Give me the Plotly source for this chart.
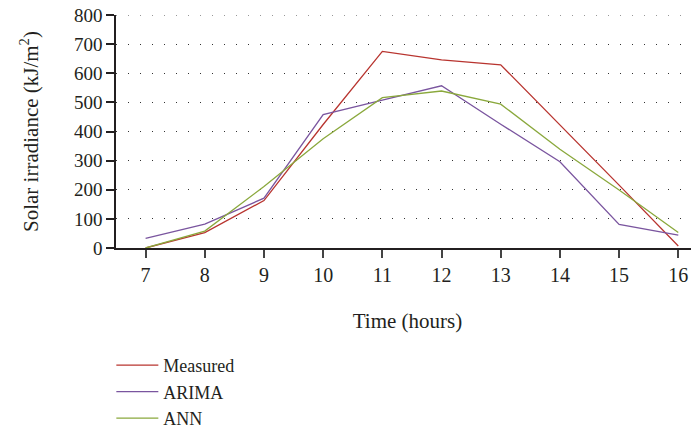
import plotly.graph_objects as go

hours = [7, 8, 9, 10, 11, 12, 13, 14, 15, 16]
measured = [0, 53, 163, 424, 675, 646, 629, 424, 216, 7]
arima = [33, 82, 171, 458, 508, 557, 425, 296, 81, 44]
ann = [0, 58, 211, 375, 516, 539, 494, 339, 199, 53]

y_ticks = [0, 100, 200, 300, 400, 500, 600, 700, 800]

FONT = "Liberation Serif"
TXT = "#231f20"
GRID_DASH = "1px,11px"

fig = go.Figure()
fig.add_trace(go.Scatter(x=hours, y=measured, mode="lines", name="Measured",
                         line=dict(color="#b8342f", width=1.3)))
fig.add_trace(go.Scatter(x=hours, y=arima, mode="lines", name="ARIMA",
                         line=dict(color="#7a559f", width=1.3)))
fig.add_trace(go.Scatter(x=hours, y=ann, mode="lines", name="ANN",
                         line=dict(color="#8aa83c", width=1.3)))

# top gridline (plotly drops the grid line at the range edge)
fig.add_hline(y=y_ticks[-1], line=dict(color="#333", width=1, dash=GRID_DASH),
              layer="below")

# page body has an 8px margin, so the figure is sized/offset to compensate
fig.update_layout(
    width=691, height=424,
    margin=dict(l=108, r=0, t=7, b=184, autoexpand=False),
    paper_bgcolor="white", plot_bgcolor="white",
    font=dict(family=FONT, size=20, color=TXT),
    showlegend=True,
    legend=dict(x=-0.008, y=-0.425, xanchor="left", yanchor="top",
                font=dict(family=FONT, size=18, color=TXT),
                itemwidth=42, tracegroupgap=0, bgcolor="rgba(0,0,0,0)"),
    xaxis=dict(range=[6.5, 16.35], tickmode="array", tickvals=hours,
               ticks="outside", ticklen=8, tickwidth=1.5, tickcolor="#444",
               showline=True, linecolor=TXT, linewidth=1.5,
               showgrid=False, zeroline=False, automargin=False,
               ticklabeloverflow="allow",
               title=dict(text="Time (hours)", standoff=29,
                          font=dict(family=FONT, size=21)),
               tickfont=dict(family=FONT, size=20)),
    yaxis=dict(range=[0, 800], tickmode="array", tickvals=y_ticks,
               ticks="outside", ticklen=8, tickwidth=1.5, tickcolor=TXT,
               showline=True, linecolor=TXT, linewidth=1.5,
               showgrid=True, gridcolor="#333", gridwidth=1, griddash=GRID_DASH,
               zeroline=False, automargin=False,
               ticklabeloverflow="allow",
               title=dict(text="Solar irradiance (kJ/m<sup>2</sup>)", standoff=30,
                          font=dict(family=FONT, size=21)),
               tickfont=dict(family=FONT, size=19)),
)

fig.write_html("out.html")
